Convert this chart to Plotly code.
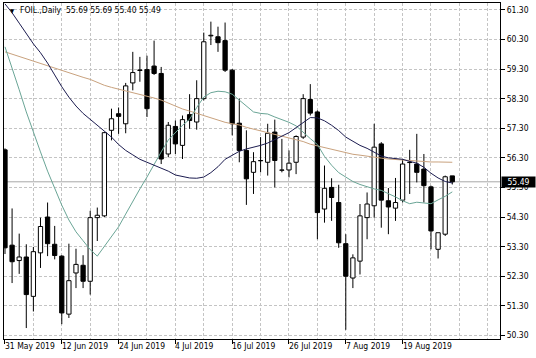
import plotly.graph_objects as go

# ---- data ----
dates = ["31 May 2019", "12 Jun 2019", "24 Jun 2019", "4 Jul 2019",
         "16 Jul 2019", "26 Jul 2019", "7 Aug 2019", "19 Aug 2019"]
date_bar_index = [0, 8, 16, 24, 32, 40, 48, 56]

opens = [56.57, 53.35, 52.83, 52.95, 51.62, 53.09, 54.30, 53.38, 52.98, 51.02,
         52.41, 52.67, 52.13, 54.28, 54.34, 57.23, 57.79, 57.45, 58.83, 59.25,
         59.28, 59.40, 59.15, 56.43, 57.36, 56.72, 57.76, 57.51, 58.30, 60.42,
         60.39, 60.26, 59.26, 57.47, 56.55, 55.81, 56.20, 56.15, 57.17, 55.88,
         55.89, 56.15, 57.00, 58.27, 57.85, 54.57, 55.30, 54.79, 53.40, 52.24,
         52.81, 54.28, 54.68, 56.77, 54.85, 54.60, 54.87, 56.15, 56.09, 55.92,
         55.32, 53.21, 53.72, 55.69]
highs = [56.62, 54.59, 53.74, 53.38, 53.29, 54.28, 54.79, 54.00, 53.01, 53.40,
         53.23, 53.01, 54.51, 54.62, 57.17, 57.96, 58.00, 58.83, 59.88, 59.71,
         59.75, 60.26, 59.37, 57.51, 57.56, 57.73, 58.45, 58.92, 60.53, 60.90,
         60.73, 60.87, 59.30, 58.30, 57.23, 56.49, 57.00, 57.45, 57.59, 56.94,
         56.55, 57.06, 58.45, 58.79, 57.90, 56.04, 55.61, 55.39, 53.72, 53.04,
         54.74, 55.13, 57.45, 56.83, 55.28, 55.62, 56.26, 56.57, 57.11, 56.43,
         55.36, 53.77, 55.70, 55.69]
lows = [53.05, 52.07, 52.38, 50.55, 51.11, 52.58, 52.98, 52.87, 50.68, 50.89,
        51.90, 51.90, 51.68, 53.49, 54.30, 56.89, 57.11, 57.13, 58.58, 58.87,
        57.68, 59.10, 56.09, 56.32, 56.43, 56.26, 57.28, 57.25, 58.24, 60.11,
        59.88, 59.20, 57.06, 56.15, 54.71, 55.08, 55.81, 55.70, 55.30, 55.81,
        55.64, 55.75, 56.94, 57.73, 53.55, 54.11, 54.17, 53.26, 50.49, 51.90,
        52.36, 53.55, 54.28, 53.94, 53.72, 54.17, 54.79, 55.08, 55.47, 54.79,
        53.21, 52.90, 53.66, 55.40]
closes = [53.26, 52.79, 52.95, 51.68, 53.13, 53.98, 53.40, 53.00, 51.06, 52.15,
          52.70, 52.13, 54.28, 54.36, 57.15, 57.62, 57.70, 58.73, 59.18, 59.27,
          57.96, 59.15, 56.26, 57.40, 56.77, 57.59, 57.56, 58.30, 60.22, 60.44,
          60.19, 59.26, 57.45, 56.55, 55.59, 56.17, 56.21, 57.13, 56.21, 55.89,
          56.12, 57.02, 58.30, 57.81, 54.45, 55.27, 54.96, 53.43, 52.30, 52.92,
          54.34, 54.74, 56.66, 54.87, 54.64, 54.79, 56.09, 56.14, 55.81, 55.36,
          53.83, 53.77, 55.66, 55.49]

ma_navy = [61.50, 61.20, 60.85, 60.50, 60.15, 59.85, 59.50, 59.10, 58.70, 58.35,
           58.05, 57.80, 57.60, 57.40, 57.20, 57.00, 56.75, 56.55, 56.40, 56.25,
           56.15, 56.05, 55.95, 55.85, 55.72, 55.66, 55.62, 55.61, 55.65, 55.80,
           56.00, 56.25, 56.40, 56.52, 56.60, 56.65, 56.72, 56.80, 56.92, 57.05,
           57.15, 57.32, 57.50, 57.66, 57.65, 57.55, 57.40, 57.22, 57.00, 56.85,
           56.72, 56.62, 56.50, 56.36, 56.30, 56.28, 56.25, 56.18, 56.12, 55.98,
           55.78, 55.62, 55.50, 55.45]
ma_teal = [60.05, 59.35, 58.60, 57.85, 57.15, 56.50, 55.85, 55.25, 54.70, 54.20,
           53.80, 53.50, 53.20, 52.98, 53.30, 53.65, 53.97, 54.40, 54.85, 55.25,
           55.65, 56.10, 56.50, 56.90, 57.15, 57.40, 57.60, 58.00, 58.35, 58.50,
           58.55, 58.53, 58.45, 58.25, 58.05, 57.85, 57.80, 57.78, 57.68, 57.60,
           57.50, 57.38, 57.15, 56.95, 56.75, 56.35, 56.05, 55.80, 55.65, 55.50,
           55.40, 55.32, 55.25, 55.20, 55.10, 54.98, 54.85, 54.75, 54.80, 54.78,
           54.75, 54.88, 55.00, 55.15]
ma_tan = [59.88, 59.80, 59.72, 59.64, 59.56, 59.48, 59.40, 59.33, 59.25, 59.17,
          59.10, 59.02, 58.95, 58.85, 58.75, 58.68, 58.62, 58.57, 58.52, 58.46,
          58.40, 58.32, 58.25, 58.15, 58.05, 57.95, 57.88, 57.80, 57.73, 57.65,
          57.58, 57.50, 57.45, 57.41, 57.33, 57.27, 57.20, 57.14, 57.08, 57.02,
          56.96, 56.90, 56.85, 56.76, 56.70, 56.64, 56.58, 56.52, 56.47, 56.42,
          56.39, 56.35, 56.32, 56.29, 56.26, 56.24, 56.22, 56.20, 56.18, 56.17,
          56.16, 56.16, 56.15, 56.15]

price_ticks = [50.30, 51.30, 52.30, 53.30, 54.30, 55.30, 56.30, 57.30, 58.30,
               59.30, 60.30, 61.30]
symbol_title = "FOIL.,Daily"

# ---- figure ----
idx = list(range(len(closes)))
FONT = "DejaVu Sans Condensed, Liberation Sans, sans-serif"
FS = 8.5
GRID = "#c4c4c4"
DASH = "3px,2px"

body_lo = [min(o, c) for o, c in zip(opens, closes)]
body_hi = [max(o, c) for o, c in zip(opens, closes)]
body_h = [h - l for h, l in zip(body_hi, body_lo)]
body_col = ["white" if c >= o else "black" for o, c in zip(opens, closes)]

wick_x, wick_y = [], []
for i, h, l, bh, bl in zip(idx, highs, lows, body_hi, body_lo):
    wick_x += [i, i, None, i, i, None]
    wick_y += [h, bh, None, bl, l, None]

fig = go.Figure()
fig.add_trace(go.Bar(x=idx, y=body_h, base=body_lo, width=0.6,
                     marker=dict(color=body_col, line=dict(color="black", width=1)),
                     hoverinfo="skip"))
fig.add_trace(go.Scatter(x=wick_x, y=wick_y, mode="lines",
                         line=dict(color="black", width=1), hoverinfo="skip"))
fig.add_trace(go.Scatter(x=idx, y=ma_tan, mode="lines",
                         line=dict(color="#c9a27e", width=1), hoverinfo="skip"))
fig.add_trace(go.Scatter(x=idx, y=ma_teal, mode="lines",
                         line=dict(color="#6aa596", width=1), hoverinfo="skip"))
fig.add_trace(go.Scatter(x=idx, y=ma_navy, mode="lines",
                         line=dict(color="#1c1c50", width=1), hoverinfo="skip"))

# current price line
fig.add_shape(type="line", xref="paper", x0=0, x1=1, y0=closes[-1], y1=closes[-1],
              line=dict(color="#a8a8a8", width=1), layer="below")

# x labels (left aligned at the tick like MetaTrader)
for d, i in zip(dates, date_bar_index):
    fig.add_annotation(x=i, y=0, xref="x", yref="paper", text=d, showarrow=False,
                       xanchor="left", yanchor="top", yshift=0, xshift=-2,
                       font=dict(family=FONT, size=FS, color="black"))

# price label box
fig.add_annotation(x=1, y=closes[-1], xref="paper", yref="y",
                   text="%.2f" % closes[-1], showarrow=False, xanchor="left",
                   yanchor="middle", xshift=1, bgcolor="black",
                   font=dict(family=FONT, size=FS, color="white"),
                   borderpad=0, width=33, align="center")

# title
fig.add_annotation(x=0.028, y=0.979, xref="paper", yref="paper",
                   text="%s  %.2f %.2f %.2f %.2f" % (symbol_title, opens[-1],
                                                     highs[-1], lows[-1], closes[-1]),
                   showarrow=False, xanchor="left", yanchor="middle",
                   font=dict(family=FONT, size=FS, color="black"))
fig.add_annotation(x=0.008, y=0.979, xref="paper", yref="paper", text="▼",
                   showarrow=False, xanchor="left", yanchor="middle",
                   font=dict(family=FONT, size=6, color="black"))

major_x = [0, 8, 16, 24, 32, 40, 48, 56]
minor_x = [4, 12, 20, 28, 36, 44, 52, 60, 64, 68]

fig.update_layout(
    width=536, height=358,
    margin=dict(l=4, r=36, t=3, b=19),
    paper_bgcolor="white", plot_bgcolor="white",
    showlegend=False, barmode="overlay", hovermode=False,
    font=dict(family=FONT, size=FS, color="black"),
    xaxis=dict(
        range=[-0.14, 69.72],
        tickmode="array", tickvals=major_x, showticklabels=False,
        ticks="outside", ticklen=4, tickcolor="black",
        showgrid=True, gridcolor=GRID, griddash=DASH, gridwidth=1,
        minor=dict(tickmode="array", tickvals=minor_x, showgrid=True,
                   gridcolor=GRID, griddash=DASH, ticks=""),
        showline=True, linecolor="black", linewidth=1, mirror=True,
        zeroline=False, fixedrange=True,
    ),
    yaxis=dict(
        range=[50.18, 61.53], side="right",
        tickmode="array", tickvals=price_ticks,
        ticktext=["%.2f" % v for v in price_ticks],
        ticks="outside", ticklen=4, tickcolor="black",
        tickfont=dict(family=FONT, size=FS, color="black"),
        showgrid=True, gridcolor=GRID, griddash=DASH, gridwidth=1,
        showline=True, linecolor="black", linewidth=1, mirror=True,
        zeroline=False, fixedrange=True,
    ),
)

fig.write_html("out.html",
               config={"displayModeBar": False, "staticPlot": True},
               post_script="document.body.style.margin='0';"
                           "document.body.style.overflow='hidden';")
